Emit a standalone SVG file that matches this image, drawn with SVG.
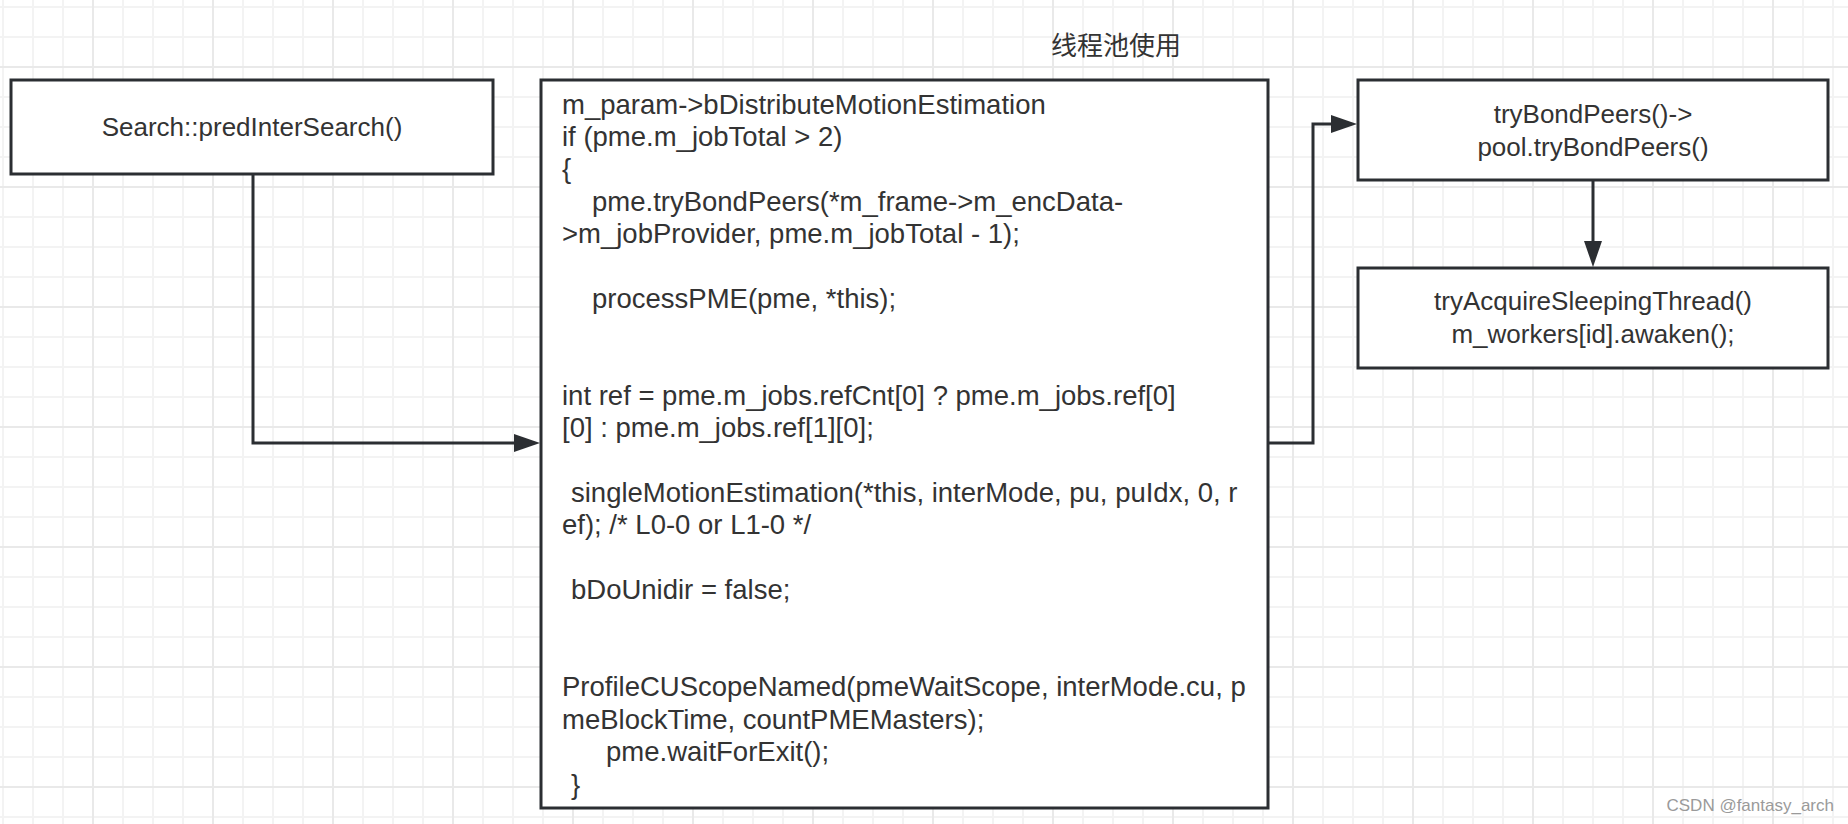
<svg xmlns="http://www.w3.org/2000/svg" width="1848" height="824" viewBox="0 0 1848 824">
  <style>
    .box { fill: #ffffff; stroke: #2b2e32; stroke-width: 3; }
    .edge { fill: none; stroke: #2b2e32; stroke-width: 3; }
    .t { font-family: "Liberation Sans", Arial, "Noto Sans CJK SC", sans-serif; fill: #333333; }
    .c { text-anchor: middle; font-size: 26px; }
    .code { font-size: 27.5px; }
    .title { font-family: "Noto Sans CJK SC", "Liberation Sans", sans-serif; font-size: 26px; fill: #333333; text-anchor: middle; }
    .wm { font-family: "Liberation Sans", Arial, sans-serif; font-size: 17px; fill: #9a9a9a; text-anchor: end; }
  </style>
  <defs>
    <pattern id="gMinor" x="-12" y="-8" width="30" height="30" patternUnits="userSpaceOnUse">
      <path d="M15 0V30M0 15H30" stroke="#f3f3f3" stroke-width="2" fill="none"/>
    </pattern>
    <pattern id="gMajor" x="33" y="7" width="120" height="120" patternUnits="userSpaceOnUse">
      <path d="M60 0V120M0 60H120" stroke="#e9e9e9" stroke-width="2" fill="none"/>
    </pattern>
    <marker id="arrow" markerUnits="userSpaceOnUse" markerWidth="28" markerHeight="20" refX="0" refY="9" orient="auto">
      <path d="M0 0L26 9L0 18Z" fill="#2b2e32"/>
    </marker>
  </defs>

  <rect width="1848" height="824" fill="#ffffff"/>
  <rect width="1848" height="824" fill="url(#gMinor)"/>
  <rect width="1848" height="824" fill="url(#gMajor)"/>

  <text class="title" x="1116" y="55">线程池使用</text>

  <g id="connectors">
    <path class="edge" d="M253 174V443H514" marker-end="url(#arrow)"/>
    <path class="edge" d="M1268 443H1313V124H1331" marker-end="url(#arrow)"/>
    <path class="edge" d="M1593 180V241" marker-end="url(#arrow)"/>
  </g>

  <g id="node-search">
    <rect class="box" x="11" y="80" width="482" height="94"/>
    <text class="t c" x="252" y="136">Search::predInterSearch()</text>
  </g>

  <g id="node-main">
    <rect class="box" x="541" y="80" width="727" height="728"/>
    <text class="t code" x="562" y="113.5">m_param-&gt;bDistributeMotionEstimation</text>
    <text class="t code" x="562" y="145.9">if (pme.m_jobTotal &gt; 2)</text>
    <text class="t code" x="562" y="178.3">{</text>
    <text class="t code" x="592" y="210.6">pme.tryBondPeers(*m_frame-&gt;m_encData-</text>
    <text class="t code" x="562" y="243">&gt;m_jobProvider, pme.m_jobTotal - 1);</text>
    <text class="t code" x="592" y="307.8">processPME(pme, *this);</text>
    <text class="t code" x="562" y="404.9">int ref = pme.m_jobs.refCnt[0] ? pme.m_jobs.ref[0]</text>
    <text class="t code" x="562" y="437.3">[0] : pme.m_jobs.ref[1][0];</text>
    <text class="t code" x="571" y="502.1">singleMotionEstimation(*this, interMode, pu, puIdx, 0, r</text>
    <text class="t code" x="562" y="534.4">ef); /* L0-0 or L1-0 */</text>
    <text class="t code" x="571" y="599.2">bDoUnidir = false;</text>
    <text class="t code" x="562" y="696.3">ProfileCUScopeNamed(pmeWaitScope, interMode.cu, p</text>
    <text class="t code" x="562" y="728.7">meBlockTime, countPMEMasters);</text>
    <text class="t code" x="606" y="761.1">pme.waitForExit();</text>
    <text class="t code" x="571" y="793.5">}</text>
  </g>

  <g id="node-trybond">
    <rect class="box" x="1358" y="80" width="470" height="100"/>
    <text class="t c" x="1593" y="122.5">tryBondPeers()-&gt;</text>
    <text class="t c" x="1593" y="155.5">pool.tryBondPeers()</text>
  </g>

  <g id="node-tryacquire">
    <rect class="box" x="1358" y="268" width="470" height="100"/>
    <text class="t c" x="1593" y="310">tryAcquireSleepingThread()</text>
    <text class="t c" x="1593" y="343">m_workers[id].awaken();</text>
  </g>

  <text class="wm" x="1834" y="811">CSDN @fantasy_arch</text>
</svg>
